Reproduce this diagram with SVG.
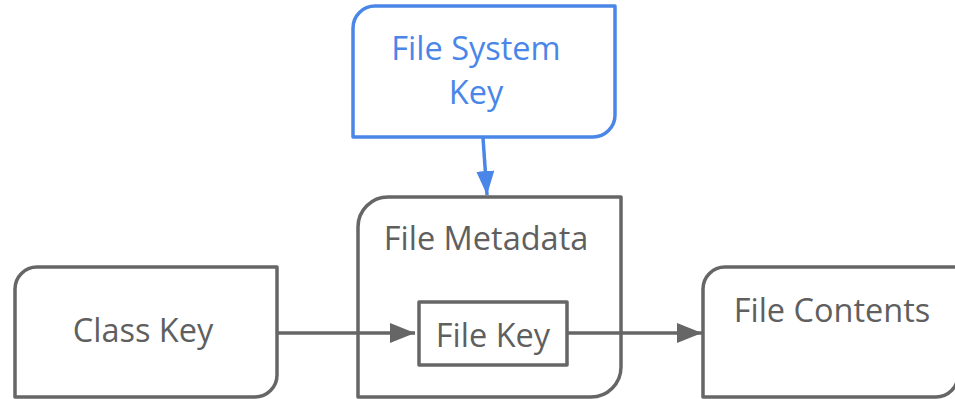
<svg xmlns="http://www.w3.org/2000/svg" width="955" height="399" viewBox="0 0 955 399">
  <defs>
    <style>
      .box { fill: #ffffff; stroke: #666666; stroke-width: 3.5; stroke-linejoin: round; }
      .box-blue { fill: #ffffff; stroke: #4a86e8; stroke-width: 3.5; stroke-linejoin: round; }
      .label { font-family: "Open Sans", "Noto Sans", "Liberation Sans", sans-serif; font-size: 32.5px; fill: #5f5f5f; text-anchor: middle; }
      .label-blue { fill: #4a86e8; }
      .edge { fill: none; stroke: #666666; stroke-width: 3.5; }
      .edge-blue { fill: none; stroke: #4a86e8; stroke-width: 3.5; }
    </style>
    <marker id="arrow-gray" viewBox="0 0 25 20" refX="25" refY="10" markerWidth="25" markerHeight="20" markerUnits="userSpaceOnUse" orient="auto">
      <path d="M0,0 L25,10 L0,20 Z" fill="#666666"/>
    </marker>
    <marker id="arrow-blue" viewBox="0 0 24 18" refX="24" refY="9" markerWidth="24" markerHeight="18" markerUnits="userSpaceOnUse" orient="auto">
      <path d="M0,0 L24,9 L0,18 Z" fill="#4a86e8"/>
    </marker>
  </defs>

  <g id="file-system-key">
    <path class="box-blue" d="M375,6 H615 V115 A22,22 0 0 1 593,137 H353 V28 A22,22 0 0 1 375,6 Z"/>
    <text class="label label-blue" x="476" y="60">File System</text>
    <text class="label label-blue" x="476" y="104">Key</text>
  </g>

  <g id="file-metadata">
    <path class="box" d="M388,197 H621 V367 A30,30 0 0 1 591,397 H358 V227 A30,30 0 0 1 388,197 Z"/>
    <text class="label" x="486" y="250">File Metadata</text>
  </g>

  <g id="file-key">
    <rect class="box" x="419" y="302" width="148" height="63"/>
    <text class="label" x="493" y="347">File Key</text>
  </g>

  <g id="class-key">
    <path class="box" d="M37,267 H277 V375 A22,22 0 0 1 255,397 H15 V289 A22,22 0 0 1 37,267 Z"/>
    <text class="label" x="143" y="342">Class Key</text>
  </g>

  <g id="file-contents">
    <path class="box" d="M725,267 H958 V375 A22,22 0 0 1 936,397 H703 V289 A22,22 0 0 1 725,267 Z"/>
    <text class="label" x="832" y="322">File Contents</text>
  </g>

  <g id="connectors">
    <path class="edge-blue" d="M483,138 L487,195" marker-end="url(#arrow-blue)"/>
    <path class="edge" d="M277,333 L415,333" marker-end="url(#arrow-gray)"/>
    <path class="edge" d="M567,333 L702,333" marker-end="url(#arrow-gray)"/>
  </g>
</svg>
